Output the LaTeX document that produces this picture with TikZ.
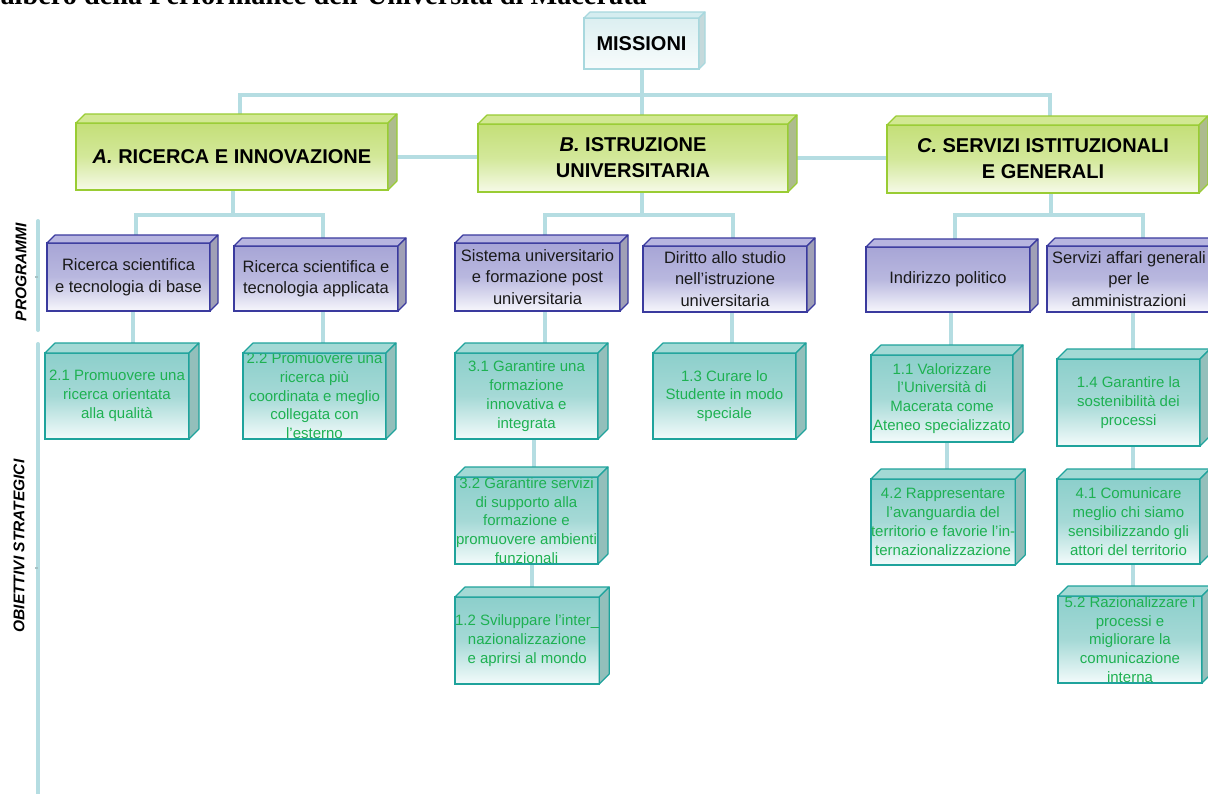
\documentclass[tikz,border=0pt]{standalone}
\usepackage{fontspec}
\setmainfont{Liberation Sans}
\newfontfamily\titlefont{Liberation Serif}
\usetikzlibrary{backgrounds,calc}
\definecolor{conncol}{HTML}{B5DDE2}
\definecolor{gborder}{HTML}{99CC33}
\definecolor{gtop}{HTML}{C4DF78}
\definecolor{gmid}{HTML}{D3E89A}
\definecolor{gbot}{HTML}{F6FAE8}
\definecolor{gtopface}{HTML}{D2E893}
\definecolor{gside}{HTML}{ADBB8E}
\definecolor{pborder}{HTML}{3A3A9E}
\definecolor{ptop}{HTML}{A7A5D6}
\definecolor{pmid}{HTML}{B9B8DF}
\definecolor{pbot}{HTML}{F7F7FC}
\definecolor{ptopface}{HTML}{B7B5E0}
\definecolor{pside}{HTML}{A0A0B6}
\definecolor{oborder}{HTML}{1FA39C}
\definecolor{otop}{HTML}{8CCFCB}
\definecolor{omid}{HTML}{A5D9D6}
\definecolor{obot}{HTML}{F3FBFB}
\definecolor{otopface}{HTML}{A3D9D5}
\definecolor{oside}{HTML}{93BFBB}
\definecolor{mborder}{HTML}{A8D8DE}
\definecolor{mtop}{HTML}{DCEFF1}
\definecolor{mbot}{HTML}{F8FCFC}
\definecolor{mtopface}{HTML}{D5EDF0}
\definecolor{mside}{HTML}{C5D9DB}
\definecolor{otext}{HTML}{1EB152}
\definecolor{ptext}{HTML}{1A1A1A}
\newcommand{\boxfaces}[5]{%
 \filldraw[fill=#3, draw=#5, line width=1.1pt, line join=round] (#1.north west) -- ++(#2,-#2) -- ([shift={(#2,-#2)}]#1.north east) -- (#1.north east) -- cycle;
 \filldraw[fill=#4, draw=#5, line width=1.1pt, line join=round] (#1.north east) -- ++(#2,-#2) -- ([shift={(#2,-#2)}]#1.south east) -- (#1.south east) -- cycle;}
\tikzset{
 basebox/.style={anchor=north west, inner sep=0pt, outer sep=0pt, align=center, line width=1.3pt},
 mbox/.style={basebox, draw=mborder, top color=mtop, bottom color=mbot, font=\fontsize{20}{24}\selectfont\bfseries},
 gbox/.style={basebox, draw=gborder, top color=gtop, bottom color=gbot, middle color=gmid, font=\fontsize{20}{26}\selectfont\bfseries},
 pbox/.style={basebox, draw=pborder, top color=ptop, bottom color=pbot, middle color=pmid, text=ptext, font=\fontsize{16.5}{21.5}\selectfont},
 obox/.style={basebox, draw=oborder, top color=otop, bottom color=obot, middle color=omid, text=otext, font=\fontsize{15}{18.8}\selectfont},
 conn/.style={draw=conncol, line width=4pt},
 sidelabel/.style={rotate=90, inner sep=0pt, font=\fontsize{15.5}{18}\selectfont\bfseries\itshape},
}
\begin{document}
\begin{tikzpicture}[x=1pt,y=-1pt]
\useasboundingbox (0,0) rectangle (1208,793);
% title (cut at top)
\node[anchor=base east, inner sep=0pt, font=\titlefont\bfseries\fontsize{28.3}{30}\selectfont] (title) at (647,4.5) {albero della Performance dell’Università di Macerata};
% missioni
\node[mbox, minimum width=115, minimum height=51] (mis) at (584,18) {MISSIONI};
\boxfaces{mis}{6}{mtopface}{mside}{mborder}
% aree
\node[gbox, minimum width=312, minimum height=67] (A) at (76,123) {{\itshape A.} RICERCA E INNOVAZIONE};
\boxfaces{A}{9}{gtopface}{gside}{gborder}
\node[gbox, minimum width=310, minimum height=68] (B) at (478,124) {{\itshape B.} ISTRUZIONE\\UNIVERSITARIA};
\boxfaces{B}{9}{gtopface}{gside}{gborder}
\node[gbox, minimum width=312, minimum height=68] (C) at (887,125) {{\itshape C.} SERVIZI ISTITUZIONALI\\E GENERALI};
\boxfaces{C}{9}{gtopface}{gside}{gborder}
% programmi
\node[pbox, minimum width=163, minimum height=68] (p1) at (47,243) {Ricerca scientifica\\e tecnologia di base};
\boxfaces{p1}{8}{ptopface}{pside}{pborder}
\node[pbox, minimum width=164, minimum height=65] (p2) at (234,246) {Ricerca scientifica e\\tecnologia applicata};
\boxfaces{p2}{8}{ptopface}{pside}{pborder}
\node[pbox, minimum width=165, minimum height=68] (p3) at (455,243) {Sistema universitario\\e formazione post\\universitaria};
\boxfaces{p3}{8}{ptopface}{pside}{pborder}
\node[pbox, minimum width=164, minimum height=66] (p4) at (643,246) {Diritto allo studio\\nell’istruzione\\universitaria};
\boxfaces{p4}{8}{ptopface}{pside}{pborder}
\node[pbox, minimum width=164, minimum height=65] (p5) at (866,247) {Indirizzo politico};
\boxfaces{p5}{8}{ptopface}{pside}{pborder}
\node[pbox, minimum width=164, minimum height=66] (p6) at (1047,246) {Servizi affari generali\\per le\\amministrazioni};
\boxfaces{p6}{8}{ptopface}{pside}{pborder}
% obiettivi
\node[obox, minimum width=144, minimum height=86] (o1) at (45,353) {2.1 Promuovere una\\ricerca orientata\\alla qualità};
\boxfaces{o1}{10}{otopface}{oside}{oborder}
\node[obox, minimum width=143, minimum height=86] (o2) at (243,353) {2.2 Promuovere una\\ricerca più\\coordinata e meglio\\collegata con\\l’esterno};
\boxfaces{o2}{10}{otopface}{oside}{oborder}
\node[obox, minimum width=143, minimum height=86] (o3) at (455,353) {3.1 Garantire una\\formazione\\innovativa e\\integrata};
\boxfaces{o3}{10}{otopface}{oside}{oborder}
\node[obox, minimum width=143, minimum height=86] (o4) at (653,353) {1.3 Curare lo\\Studente in modo\\speciale};
\boxfaces{o4}{10}{otopface}{oside}{oborder}
\node[obox, minimum width=143, minimum height=87] (o5) at (455,477) {3.2 Garantire servizi\\di supporto alla\\formazione e\\promuovere ambienti\\funzionali};
\boxfaces{o5}{10}{otopface}{oside}{oborder}
\node[obox, minimum width=143, minimum height=87] (o6) at (455,597) {1.2 Sviluppare l’inter\_\\nazionalizzazione\\e aprirsi al mondo};
\boxfaces{o6}{10}{otopface}{oside}{oborder}
\node[obox, minimum width=142, minimum height=87] (o7) at (871,355) {1.1 Valorizzare\\l’Università di\\Macerata come\\Ateneo specializzato};
\boxfaces{o7}{10}{otopface}{oside}{oborder}
\node[obox, minimum width=142, minimum height=86] (o8) at (871,479) {4.2 Rappresentare\\l’avanguardia del\\territorio e favorie l’in-\\ternazionalizzazione};
\boxfaces{o8}{10}{otopface}{oside}{oborder}
\node[obox, minimum width=143, minimum height=87] (o9) at (1057,359) {1.4 Garantire la\\sostenibilità dei\\processi};
\boxfaces{o9}{10}{otopface}{oside}{oborder}
\node[obox, minimum width=143, minimum height=85] (o10) at (1057,479) {4.1 Comunicare\\meglio chi siamo\\sensibilizzando gli\\attori del territorio};
\boxfaces{o10}{10}{otopface}{oside}{oborder}
\node[obox, minimum width=144, minimum height=87] (o11) at (1058,596) {5.2 Razionalizzare i\\processi e\\migliorare la\\comunicazione\\interna};
\boxfaces{o11}{10}{otopface}{oside}{oborder}
% side labels
\node[sidelabel] (lprog) at (21,272) {PROGRAMMI};
\node[sidelabel] (lobj) at (19,546) {OBIETTIVI STRATEGICI};
% connectors
\begin{scope}[on background layer]
 \fill[white] (0,0) rectangle (1208,793);
 \draw[conn] (mis.south) -- ++(0,26) -| ([xshift=8pt]A.north);
 \draw[conn] (mis.south) -- (mis.south |- B.north);
 \draw[conn] (mis.south) -- ++(0,26) -| ([xshift=7pt]C.north);
 \draw[conn] (A.east) -- (A.east -| B.west);
 \draw[conn] (B.east) -- (B.east -| C.west);
 \draw[conn] ([xshift=1pt]A.south) -- ++(0,25) -| ([xshift=7.5pt]p1.north);
 \draw[conn] ([xshift=1pt]A.south) -- ++(0,25) -| ([xshift=7pt]p2.north);
 \draw[conn] ([xshift=9pt]B.south) -- ++(0,23) -| ([xshift=7.5pt]p3.north);
 \draw[conn] ([xshift=9pt]B.south) -- ++(0,23) -| ([xshift=8pt]p4.north);
 \draw[conn] ([xshift=8pt]C.south) -- ++(0,22) -| ([xshift=7pt]p5.north);
 \draw[conn] ([xshift=8pt]C.south) -- ++(0,22) -| ([xshift=14pt]p6.north);
 \draw[conn] ([xshift=4.5pt]p1.south) -- ([xshift=4.5pt]p1.south |- o1.north);
 \draw[conn] ([xshift=7pt]p2.south) -- ([xshift=7pt]p2.south |- o2.north);
 \draw[conn] ([xshift=7.5pt]p3.south) -- ([xshift=7.5pt]p3.south |- o3.north);
 \draw[conn] ([xshift=7.5pt]o3.south) -- ([xshift=7.5pt]o3.south |- o5.north);
 \draw[conn] ([xshift=5.5pt]o5.south) -- ([xshift=5.5pt]o5.south |- o6.north);
 \draw[conn] ([xshift=7pt]p4.south) -- ([xshift=7pt]p4.south |- o4.north);
 \draw[conn] ([xshift=3pt]p5.south) -- ([xshift=3pt]p5.south |- o7.north);
 \draw[conn] ([xshift=5pt]o7.south) -- ([xshift=5pt]o7.south |- o8.north);
 \draw[conn] ([xshift=4pt]p6.south) -- ([xshift=4pt]p6.south |- o9.north);
 \draw[conn] ([xshift=4.5pt]o9.south) -- ([xshift=4.5pt]o9.south |- o10.north);
 \draw[conn] ([xshift=4.5pt]o10.south) -- ([xshift=4.5pt]o10.south |- o11.north);
 % side brackets
 \draw[conn, line cap=round] (38,221) -- (38,330);
 \draw[draw=conncol!70!gray, line width=1.5pt] (38,277) -- (35,277);
 \draw[conn, line cap=round] (38,344) -- (38,795);
 \draw[draw=conncol!70!gray, line width=1.5pt] (38,568) -- (35,568);
\end{scope}
\end{tikzpicture}
\end{document}
